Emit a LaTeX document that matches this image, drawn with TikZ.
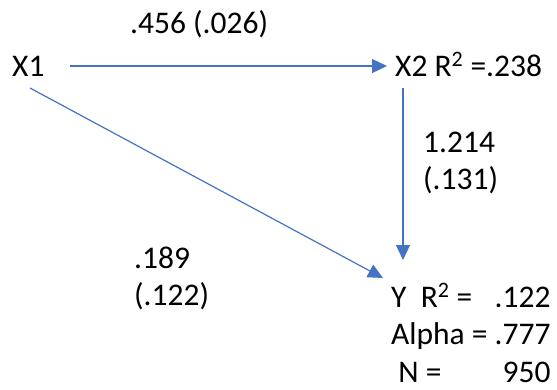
\documentclass[tikz,border=0pt]{standalone}
\usepackage{fontspec}
\setmainfont{Carlito}
\usepackage{tikz}
\usetikzlibrary{arrows.meta, calc}

\begin{document}
\begin{tikzpicture}[
  x=1pt, y=-1pt,
  var/.style={inner sep=0pt, anchor=base west, font=\fontsize{31.5}{37.5}\selectfont},
  coef/.style={inner sep=0pt, anchor=base west, font=\fontsize{31.5}{37.5}\selectfont},
  arrow/.style={-{Triangle[length=15pt, width=14pt]}, draw=pathblue, line width=1.2pt}
]
  \definecolor{pathblue}{HTML}{4472C4}
  \useasboundingbox (0,0) rectangle (557,389);
  % Variables
  \node[var] (x1) at (12,76) {X1};
  \node[var] (x2) at (395,76) {X2 R\textsuperscript{2} =.238};
  \node[var] (y) at (391,307) {%
    \begin{tabular}[t]{@{}l@{\ }r@{}}
      Y\ \ R\textsuperscript{2} = & .122\\
      Alpha = & .777\\
      \ N = & 950
    \end{tabular}};
  % Path coefficients
  \node[coef] (c12) at (130,33) {.456 (.026)};
  \node[coef] (c2y) at (423,152) {%
    \begin{tabular}[t]{@{}l@{}}1.214\\(.131)\end{tabular}};
  \node[coef] (c1y) at (134,268) {%
    \begin{tabular}[t]{@{}l@{}}.189\\(.122)\end{tabular}};
  % Paths
  \draw[arrow] ($(x1.base west)+(58,-10)$) -- ($(x2.base west)+(-8,-10)$);
  \draw[arrow] ($(x2.base west)+(8,12)$) -- ($(y.base west)+(12,-47)$);
  \draw[arrow] ($(x1.base west)+(18,12)$) -- ($(y.base west)+(-8,-29)$);
\end{tikzpicture}
\end{document}
